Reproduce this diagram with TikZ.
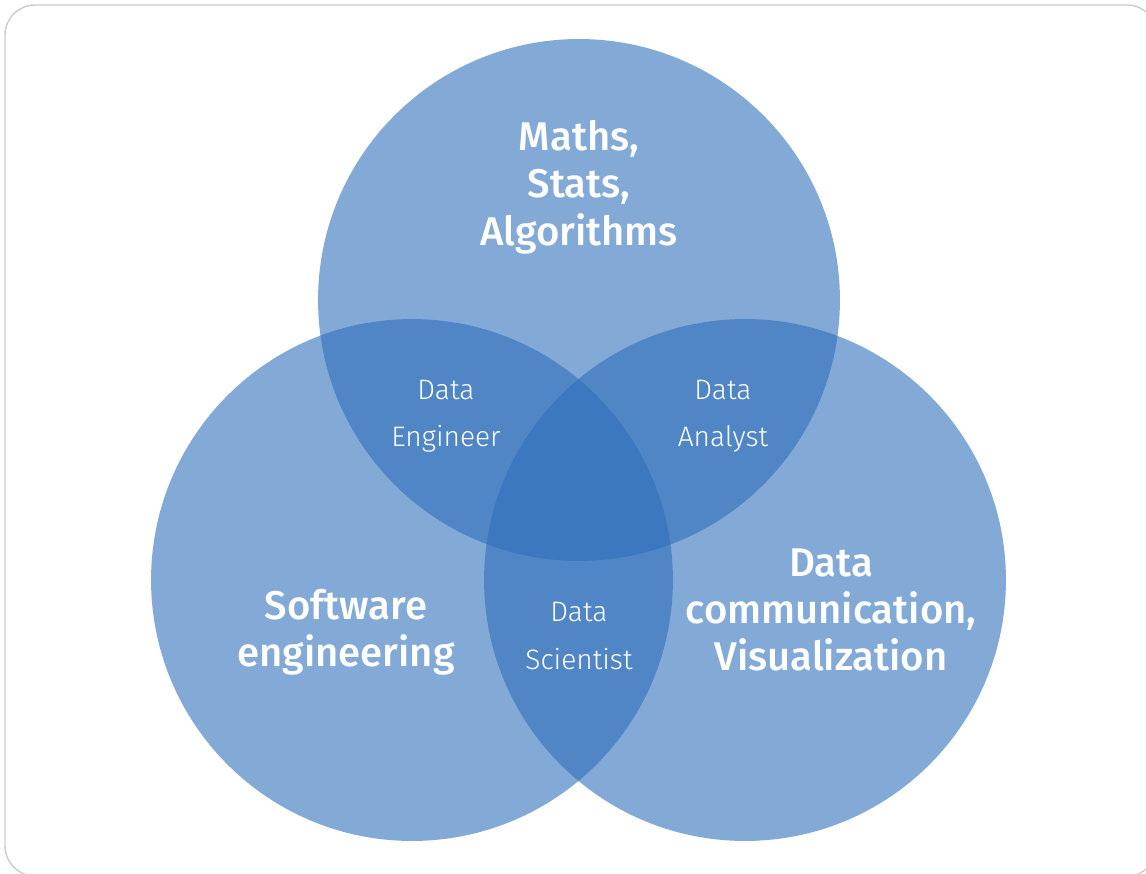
\documentclass[tikz,border=0pt]{standalone}
\usepackage{fontspec}
\setmainfont{Fira Sans}
\newfontfamily\lightfont{Fira Sans Light}
\newfontfamily\semifont{Fira Sans Medium}
\definecolor{vennblue}{RGB}{44,110,186}
\begin{document}
\begin{tikzpicture}[x=0.02cm, y=-0.02cm,
  venn/.style={circle, fill=vennblue, fill opacity=.59, minimum size=10.44cm, inner sep=0pt},
  field/.style={text=white, align=center, font=\semifont\fontsize{22.8}{27}\selectfont},
  role/.style={text=white, align=center, font=\lightfont\fontsize{16}{27}\selectfont}]
\useasboundingbox (0,0) rectangle (1146,874);
\draw[black!20, line width=.8pt, rounded corners=.6cm] (5,5) rectangle (1157,876);
% the three fields
\node[venn] (maths) at (579,300) {};
\node[venn] (soft) at (412,580) {};
\node[venn] (comm) at (745,580) {};
\node[field] (mathslbl) at (579,187) {Maths,\\Stats,\\Algorithms};
\node[field] (softlbl) at (346,632) {Software\\engineering};
\node[field] (commlbl) at (831,610) {Data\\communication,\\Visualization};
% the roles in the overlaps
\node[role] (engineer) at (446,416) {Data\\Engineer};
\node[role] (analyst) at (723,416) {Data\\Analyst};
\node[role] (scientist) at (579,636) {Data\\Scientist};
\end{tikzpicture}
\end{document}
